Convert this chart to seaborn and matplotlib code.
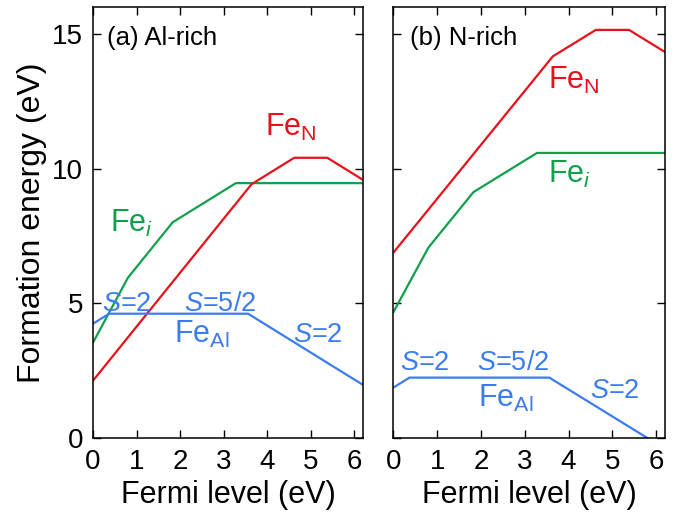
import matplotlib
matplotlib.use('Agg')
import matplotlib.pyplot as plt
import pandas as pd
import seaborn as sns

# Breakpoints of the formation-energy lines (Fermi level in eV, energy in eV)
fe_al_x = [0.0, 0.37, 3.56, 6.2]
fe_al_y_alrich = [4.25, 4.62, 4.62, 1.98]
fe_al_y_nrich = [1.88, 2.25, 2.25, -0.39]

fe_i_x = [0.0, 0.8, 1.83, 3.28, 6.2]
fe_i_y_alrich = [3.55, 5.95, 8.01, 9.46, 9.46]
fe_i_y_nrich = [4.67, 7.07, 9.13, 10.58, 10.58]

fe_n_x = [0.0, 3.64, 4.62, 5.38, 6.2]
fe_n_y_alrich = [2.14, 9.42, 10.40, 10.40, 9.58]
fe_n_y_nrich = [6.88, 14.16, 15.14, 15.14, 14.32]

panel_titles = ['(a) Al-rich', '(b) N-rich']
x_ticks = [0, 1, 2, 3, 4, 5, 6]
y_ticks = [0, 5, 10, 15]

red = '#E8101A'
green = '#0FA04A'
blue = '#3B7DF0'

sns.set_style('ticks', {'axes.edgecolor': 'black', 'text.color': 'black',
                        'axes.labelcolor': 'black', 'xtick.color': 'black',
                        'ytick.color': 'black'})
plt.rcParams['font.family'] = ['Liberation Sans', 'DejaVu Sans']
plt.rcParams['mathtext.fontset'] = 'custom'
plt.rcParams['mathtext.rm'] = 'Liberation Sans'
plt.rcParams['mathtext.it'] = 'Liberation Sans:italic'

fig = plt.figure(figsize=(6.82, 5.21), dpi=100)
ax_a = fig.add_axes([0.1364, 0.1587, 0.3959, 0.8284])
ax_b = fig.add_axes([0.5767, 0.1587, 0.3984, 0.8284])

panels = [
    (ax_a, fe_al_y_alrich, fe_i_y_alrich, fe_n_y_alrich),
    (ax_b, fe_al_y_nrich, fe_i_y_nrich, fe_n_y_nrich),
]

for i, (ax, al_y, i_y, n_y) in enumerate(panels):
    df_al = pd.DataFrame({'x': fe_al_x, 'y': al_y})
    df_i = pd.DataFrame({'x': fe_i_x, 'y': i_y})
    df_n = pd.DataFrame({'x': fe_n_x, 'y': n_y})
    sns.lineplot(data=df_i, x='x', y='y', ax=ax, color=green, lw=1.6, sort=False, estimator=None)
    sns.lineplot(data=df_n, x='x', y='y', ax=ax, color=red, lw=1.6, sort=False, estimator=None)
    sns.lineplot(data=df_al, x='x', y='y', ax=ax, color=blue, lw=1.6, sort=False, estimator=None)

    ax.set_xlim(0, 6.2)
    ax.set_ylim(0, 16)
    ax.set_xticks(x_ticks)
    ax.set_yticks(y_ticks)
    ax.tick_params(direction='in', top=True, right=True, length=6, width=1,
                   labelsize=20, colors='black')
    ax.tick_params(axis='x', pad=8)
    ax.tick_params(axis='y', pad=7)
    for sp in ax.spines.values():
        sp.set_linewidth(1.1)
        sp.set_color('black')
    ax.set_xlabel('Fermi level (eV)', fontsize=22, labelpad=3, color='black')
    ax.set_ylabel('')
    if i == 1:
        ax.set_yticklabels([])

    ax.text(0.33 if i == 0 else 0.38, 14.58, panel_titles[i], fontsize=18.5,
            ha='left', va='baseline', color='black')

ax_a.set_ylabel('Formation energy (eV)', fontsize=23, labelpad=4, color='black')

# labels, panel (a)
ax_a.text(3.95, 11.2, r'Fe$_{\rm N}$', color=red, fontsize=22, va='baseline')
ax_a.text(0.38, 7.67, r'Fe$_{i}$', color=green, fontsize=22, va='baseline')
ax_a.text(0.2, 4.72, r'$S$=2', color=blue, fontsize=19.5, va='baseline')
ax_a.text(2.08, 4.72, r'$S$=5/2', color=blue, fontsize=19.5, va='baseline')
ax_a.text(1.85, 3.53, r'Fe$_{\rm Al}$', color=blue, fontsize=22, va='baseline')
ax_a.text(4.6, 3.58, r'$S$=2', color=blue, fontsize=19.5, va='baseline')

# labels, panel (b)
ax_b.text(3.53, 12.96, r'Fe$_{\rm N}$', color=red, fontsize=22, va='baseline')
ax_b.text(3.53, 9.47, r'Fe$_{i}$', color=green, fontsize=22, va='baseline')
ax_b.text(0.15, 2.53, r'$S$=2', color=blue, fontsize=19.5, va='baseline')
ax_b.text(1.91, 2.53, r'$S$=5/2', color=blue, fontsize=19.5, va='baseline')
ax_b.text(1.93, 1.17, r'Fe$_{\rm Al}$', color=blue, fontsize=22, va='baseline')
ax_b.text(4.49, 1.48, r'$S$=2', color=blue, fontsize=19.5, va='baseline')

fig.savefig('out.png', dpi=100)
